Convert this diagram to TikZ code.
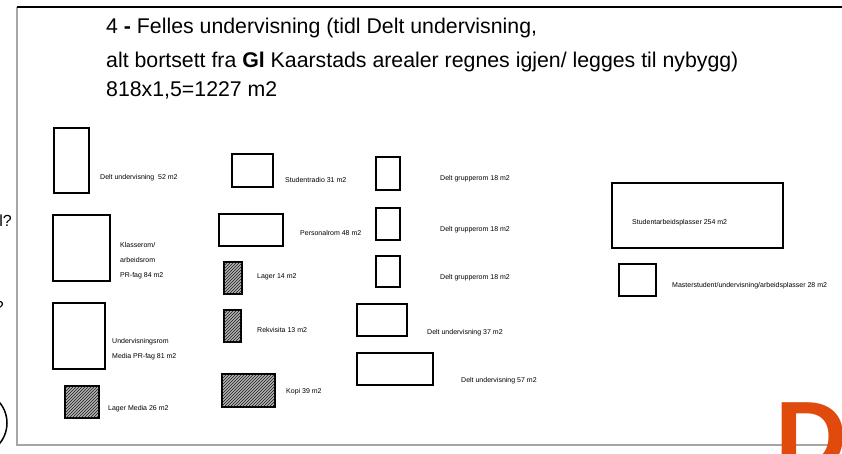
\documentclass[tikz,border=0pt]{standalone}
\usepackage{fontspec}
\setmainfont{Liberation Sans}
\usetikzlibrary{patterns}
\definecolor{dorange}{HTML}{E04A0C}
\tikzset{
  room/.style={draw, line width=2pt, inner sep=0pt, outer sep=0pt, rectangle},
  store/.style={room, fill=gray!60, postaction={pattern=north east lines, pattern color=black!90}},
  lbl/.style={anchor=base west, inner sep=0pt, font=\fontsize{7}{8}\selectfont},
  ttl/.style={anchor=base west, inner sep=0pt, font=\fontsize{21.3}{25}\selectfont},
}
\newcommand{\roombox}[6][room]{% style, name, x1, y1, x2, y2
  \node[#1, minimum width={(#5-#3-2)*1pt}, minimum height={(#6-#4-2)*1pt}] (#2) at ({(#3+#5)/2},{(#4+#6)/2}) {};}
\begin{document}
\begin{tikzpicture}[x=1pt,y=-1pt]
\useasboundingbox (0,0) rectangle (842,454);
\clip (0,0) rectangle (842,454);
\fill[white] (0,0) rectangle (842,454);
% frame
\coordinate (ftl) at (17,7);
\coordinate (fbl) at (17,445);
\coordinate (ftr) at (842,7);
\coordinate (fbr) at (842,445);
\draw[gray!70, line width=1.4pt] (ftl) -- (fbl) -- (fbr);
\draw[black, line width=1.3pt] (ftl) -- (ftr);
% title
\node[ttl] (t1) at (106,34) {4 {\bfseries -} Felles undervisning (tidl Delt undervisning,};
\node[ttl] (t2) at (106,68) {alt bortsett fra {\bfseries Gl} Kaarstads arealer regnes igjen/ legges til nybygg)};
\node[ttl] (t3) at (106,97) {818x1,5=1227 m2};
% left column
\roombox{b1}{53}{127}{90}{194}
\node[lbl] (l1) at (100,179.5) {Delt undervisning\ \ 52 m2};
\roombox{b2}{52}{214}{111}{282}
\node[lbl] (l2a) at (120,247.5) {Klasserom/};
\node[lbl] (l2b) at (120,262.5) {arbeidsrom};
\node[lbl] (l2c) at (120,277.5) {PR-fag 84 m2};
\roombox{b3}{52}{302}{106}{370}
\node[lbl] (l3a) at (112,343.5) {Undervisningsrom};
\node[lbl] (l3b) at (112,358.5) {Media PR-fag 81 m2};
\roombox[store]{b4}{64}{385}{100}{419}
\node[lbl] (l4) at (108,410.5) {Lager Media 26 m2};
% middle column
\roombox{b5}{231}{153}{274}{188}
\node[lbl] (l5) at (285,183) {Studentradio 31 m2};
\roombox{b6}{218}{213}{284}{247}
\node[lbl] (l6) at (300,235.5) {Personalrom 48 m2};
\roombox[store]{b7}{223}{261}{243}{295}
\node[lbl] (l7) at (257,278.5) {Lager 14 m2};
\roombox[store]{b8}{223}{309}{242}{343}
\node[lbl] (l8) at (257,332.5) {Rekvisita 13 m2};
\roombox[store]{b9}{221}{373}{276}{408}
\node[lbl] (l9) at (286,393.5) {Kopi 39 m2};
% third column
\roombox{b10}{375}{156}{401}{191}
\node[lbl] (l10) at (440,181) {Delt grupperom 18 m2};
\roombox{b11}{375}{207}{401}{241}
\node[lbl] (l11) at (440,232) {Delt grupperom 18 m2};
\roombox{b12}{375}{255}{401}{288}
\node[lbl] (l12) at (440,279) {Delt grupperom 18 m2};
\roombox{b13}{356}{303}{408}{337}
\node[lbl] (l13) at (427,334) {Delt undervisning 37 m2};
\roombox{b14}{356}{352}{434}{386}
\node[lbl] (l14) at (461,382.5) {Delt undervisning 57 m2};
% right
\roombox{b15}{611}{182}{784}{249}
\node[lbl] (l15) at (632,225) {Studentarbeidsplasser 254 m2};
\roombox{b16}{618}{263}{657}{297}
\node[lbl] (l16) at (672,287.5) {Masterstudent/undervisning/arbeidsplasser 28 m2};
% cut-off items at left edge
\node[anchor=base east, inner sep=0pt, font=\fontsize{16}{18}\selectfont] (q1) at (12,226) {l?};
\node[anchor=base east, inner sep=0pt, font=\fontsize{16}{18}\selectfont] (q2) at (4,312) {?};
\draw[line width=1.5pt] (-25,423) circle (32);
% orange D
\node[anchor=base west, inner sep=0pt, text=dorange, font=\fontsize{100}{100}\selectfont\bfseries] (dd) at (775,471) {D};
\end{tikzpicture}
\end{document}
